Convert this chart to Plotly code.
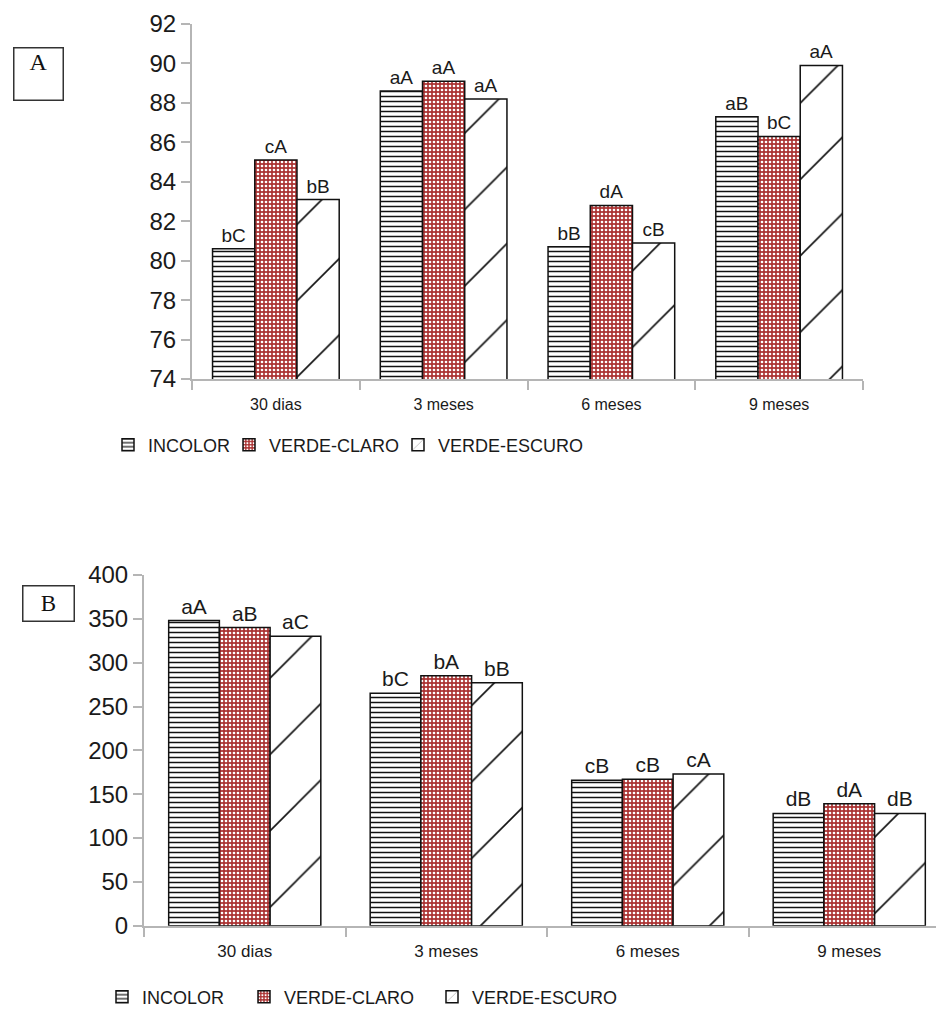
import plotly.graph_objects as go

categories = ["30 dias", "3 meses", "6 meses", "9 meses"]
series_names = ["INCOLOR", "VERDE-CLARO", "VERDE-ESCURO"]

# Panel A values
a_incolor = [80.6, 88.6, 80.7, 87.3]
a_claro = [85.1, 89.1, 82.8, 86.3]
a_escuro = [83.1, 88.2, 80.9, 89.9]
a_letters_incolor = ["bC", "aA", "bB", "aB"]
a_letters_claro = ["cA", "aA", "dA", "bC"]
a_letters_escuro = ["bB", "aA", "cB", "aA"]

# Panel B values
b_incolor = [348, 265, 166, 128]
b_claro = [340, 285, 167, 139]
b_escuro = [330, 277, 173, 128]
b_letters_incolor = ["aA", "bC", "cB", "dB"]
b_letters_claro = ["aB", "bA", "cB", "dA"]
b_letters_escuro = ["aC", "bB", "cA", "dB"]

# page has an 8px body margin; figure sized to fit the 944x1011 viewport
OFF = 8
W, H = 944 - OFF, 1011 - OFF

patterns = [
    dict(shape="-", fgcolor="#111111", bgcolor="white", size=5, solidity=0.3, fillmode="replace"),
    dict(shape=".", fgcolor="white", bgcolor="#ab3333", size=4, solidity=0.35, fillmode="replace"),
    dict(shape="/", fgcolor="#111111", bgcolor="white", size=54, solidity=0.03, fillmode="replace"),
]

TXT_FONT = "Liberation Sans, Arial, sans-serif"


def px_x(v):
    return (v - OFF) / W


def px_y(v):
    return 1 - (v - OFF) / H


# legend anchor positions (screen px) for each entry
top_leg_x = [108, 229, 398]
bot_leg_x = [102, 244, 432]
top_leg_y = 445
bot_leg_y = 997

fig = go.Figure()

a_vals = [a_incolor, a_claro, a_escuro]
a_lbls = [a_letters_incolor, a_letters_claro, a_letters_escuro]
b_vals = [b_incolor, b_claro, b_escuro]
b_lbls = [b_letters_incolor, b_letters_claro, b_letters_escuro]

legend_layout = {}
for i, name in enumerate(series_names):
    lg = "legend" if i == 0 else f"legend{i + 1}"
    fig.add_trace(go.Bar(
        x=categories, y=a_vals[i], name=name, text=a_lbls[i],
        textposition="outside", cliponaxis=False,
        textfont=dict(family=TXT_FONT, size=19, color="#1a1a1a"),
        marker=dict(pattern=patterns[i], line=dict(color="#111111", width=1.5)),
        xaxis="x", yaxis="y", legend=lg,
    ))
    legend_layout[lg] = dict(orientation="h", x=px_x(top_leg_x[i]), y=px_y(top_leg_y),
                             xanchor="left", yanchor="middle",
                             font=dict(family=TXT_FONT, size=18), itemwidth=30,
                             bgcolor="rgba(0,0,0,0)")
for i, name in enumerate(series_names):
    lg = f"legend{i + 4}"
    fig.add_trace(go.Bar(
        x=categories, y=b_vals[i], name=name, text=b_lbls[i],
        textposition="outside", cliponaxis=False,
        textfont=dict(family=TXT_FONT, size=21, color="#1a1a1a"),
        marker=dict(pattern=patterns[i], line=dict(color="#111111", width=1.5)),
        xaxis="x2", yaxis="y2", legend=lg,
    ))
    legend_layout[lg] = dict(orientation="h", x=px_x(bot_leg_x[i]), y=px_y(bot_leg_y),
                             xanchor="left", yanchor="middle",
                             font=dict(family=TXT_FONT, size=18), itemwidth=30,
                             bgcolor="rgba(0,0,0,0)")

axis_common = dict(
    showgrid=False, zeroline=False, showline=True, linecolor="#b5b5b5", linewidth=2,
    ticks="outside", tickcolor="#b5b5b5", tickwidth=2, ticklen=9, automargin=False,
)

fig.update_layout(
    width=W, height=H,
    margin=dict(l=0, r=0, t=0, b=0, autoexpand=False),
    paper_bgcolor="white", plot_bgcolor="white",
    barmode="group", bargap=0.245, bargroupgap=0,
    showlegend=True,
    font=dict(family=TXT_FONT, color="#1a1a1a"),
    xaxis=dict(domain=[px_x(192), px_x(863)], anchor="y", tickson="boundaries",
               ticklabelstandoff=10,
               tickfont=dict(family=TXT_FONT, size=16), **axis_common),
    yaxis=dict(domain=[px_y(379), px_y(24)], anchor="x", range=[74, 92], dtick=2,
               tickfont=dict(family=TXT_FONT, size=24), **axis_common),
    xaxis2=dict(domain=[px_x(144), 1.0], anchor="y2", tickson="boundaries",
                range=[-0.5, -0.5 + 800 / 201.5], ticklabelstandoff=9,
                tickfont=dict(family=TXT_FONT, size=17), **axis_common),
    yaxis2=dict(domain=[px_y(925.7), px_y(575)], anchor="x2", range=[0, 400], dtick=50,
                tickfont=dict(family=TXT_FONT, size=24), **axis_common),
    **legend_layout,
)

fig.add_annotation(text="A", xref="paper", yref="paper", x=px_x(38.5), y=px_y(74),
                   xanchor="center", yanchor="middle", showarrow=False,
                   font=dict(family="Liberation Serif, Times New Roman, serif", size=24, color="#111"),
                   width=48, height=51, bordercolor="#333", borderwidth=1.5, valign="top",
                   borderpad=0)
fig.add_annotation(text="B", xref="paper", yref="paper", x=px_x(48.5), y=px_y(603.5),
                   xanchor="center", yanchor="middle", showarrow=False,
                   font=dict(family="Liberation Serif, Times New Roman, serif", size=23, color="#111"),
                   width=50, height=34, bordercolor="#333", borderwidth=1.5,
                   borderpad=0)

fig.write_html("out.html")
